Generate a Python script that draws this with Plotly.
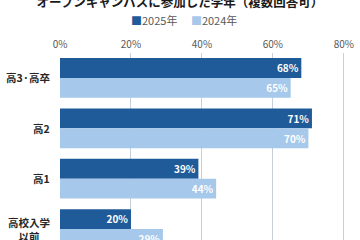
import plotly.graph_objects as go

categories = ["高3·高卒", "高2", "高1", "高校入学<br>以前"]
values_2025 = [68, 71, 39, 20]
values_2024 = [65, 70, 44, 29]
series_names = ["2025年", "2024年"]
x_ticks = [0, 20, 40, 60, 80]
title_text = "オープンキャンパスに参加した学年（複数回答可）"

DARK = "#1F5B98"
LIGHT = "#A6C8EA"
FONT = "Noto Sans CJK JP"

fig = go.Figure()
for name, vals, col in [(series_names[0], values_2025, DARK), (series_names[1], values_2024, LIGHT)]:
    fig.add_trace(go.Bar(
        y=categories, x=vals, name=name, orientation="h",
        marker=dict(color=col, line=dict(width=0)),
        text=[f"{v}%" for v in vals], textposition="inside", insidetextanchor="end",
        textfont=dict(color="white", size=11.5, family=FONT, weight="bold"),
        textangle=0, showlegend=False,
    ))

for c in categories:
    fig.add_annotation(x=0, xref="paper", xanchor="right", xshift=-8,
                       y=c, yref="y", yanchor="middle", text=c, showarrow=False,
                       align="center",
                       font=dict(size=10.5, family=FONT, color="#262626", weight="bold"))

# legend as text
legend_html = (f"<span style='color:{DARK}'>■</span>{series_names[0]}"
               f"　 <span style='color:{LIGHT}'>■</span>{series_names[1]}")
fig.add_annotation(x=0.5, xref="paper", xanchor="center", xshift=-22,
                   y=(240 - 20) / 187, yref="paper",
                   yanchor="middle", text=legend_html, showarrow=False,
                   font=dict(size=11, family=FONT, color="#595959"))

fig.update_layout(
    width=360, height=240,
    margin=dict(l=60, r=9, t=53, b=0),
    paper_bgcolor="white", plot_bgcolor="white",
    barmode="group", bargap=0.21, bargroupgap=0,
    title=dict(text=title_text, x=0.5, xanchor="center", y=1 - 3 / 240, yanchor="middle",
               font=dict(size=12.5, family=FONT, color="#1a1a1a", weight="bold")),
    font=dict(family=FONT),
    xaxis=dict(range=[0, 82], side="top", tickmode="array", tickvals=x_ticks,
               ticktext=[f"{t}%" for t in x_ticks],
               showgrid=True, gridcolor="#C5D0DB", gridwidth=1, zeroline=False,
               showline=False, ticks="", tickfont=dict(size=10, color="#595959"),
               ticklabelstandoff=2),
    yaxis=dict(categoryorder="array", categoryarray=categories,
               range=[3.218, -0.496], showticklabels=False, showgrid=False,
               zeroline=False, showline=False, ticks=""),
)

fig.write_html("out.html")
